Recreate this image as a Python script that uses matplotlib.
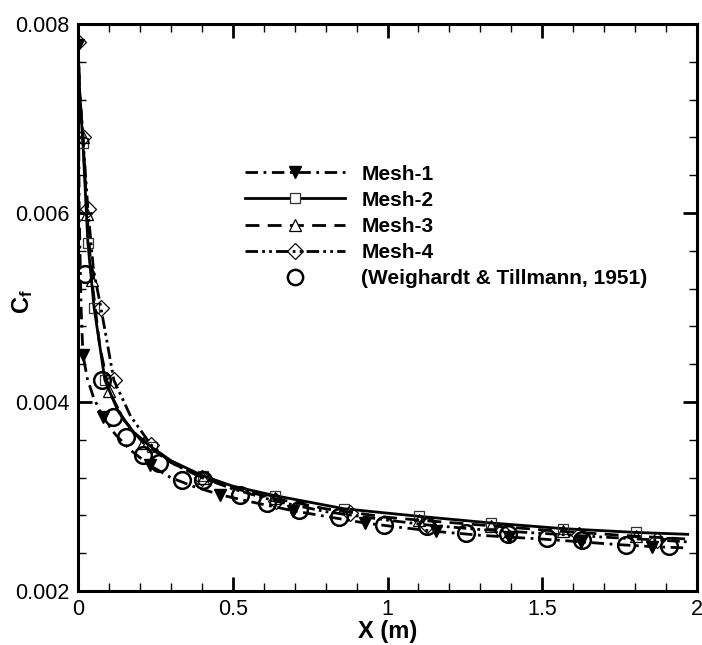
import matplotlib
matplotlib.use("Agg")
import matplotlib.pyplot as plt
from matplotlib.lines import Line2D
from matplotlib.ticker import MultipleLocator, FormatStrFormatter
import numpy as np

plt.rcParams['font.family'] = ['Liberation Sans', 'DejaVu Sans']
plt.rcParams['mathtext.fontset'] = 'custom'
plt.rcParams['mathtext.rm'] = 'Liberation Sans'
plt.rcParams['mathtext.bf'] = 'Liberation Sans:bold'
plt.rcParams['lines.scale_dashes'] = False

# Mesh-1 (dash-dot, filled triangles)
m1_x = [0, 0.004, 0.01, 0.016, 0.03, 0.05, 0.08, 0.12, 0.17, 0.232, 0.3, 0.37, 0.458, 0.55,
        0.694, 0.8, 0.926, 1.05, 1.158, 1.3, 1.394, 1.5, 1.626, 1.75, 1.855, 1.97]
m1_cf = [0.0078, 0.0060, 0.0050, 0.0045, 0.00425, 0.00405, 0.00384, 0.00366, 0.00349, 0.00333,
         0.00320, 0.00311, 0.00302, 0.00295, 0.00285, 0.00279, 0.00272, 0.00267, 0.00263,
         0.00259, 0.00257, 0.00255, 0.00252, 0.00249, 0.00247, 0.002455]
m1_mx = [0, 0.016, 0.08, 0.232, 0.458, 0.694, 0.926, 1.158, 1.394, 1.626, 1.855]
m1_mcf = [0.00778, 0.0045, 0.00384, 0.00333, 0.00302, 0.00285, 0.00272, 0.00263, 0.00257, 0.00252, 0.00247]

# Mesh-2 (solid, squares)
m2_x = [0, 0.005, 0.016, 0.032, 0.052, 0.087, 0.13, 0.18, 0.239, 0.3, 0.403, 0.5, 0.635,
        0.861, 1.103, 1.335, 1.568, 1.803, 1.97]
m2_cf = [0.0078, 0.0073, 0.00674, 0.00568, 0.0050, 0.00423, 0.00390, 0.00368, 0.00352, 0.00338,
         0.00322, 0.00311, 0.00301, 0.00287, 0.00279, 0.00272, 0.00266, 0.00262, 0.00260]
m2_mx = [0.016, 0.032, 0.052, 0.087, 0.239, 0.403, 0.635, 0.861, 1.103, 1.335, 1.568, 1.803]
m2_mcf = [0.00674, 0.00568, 0.0050, 0.00423, 0.00352, 0.00322, 0.00301, 0.00287, 0.00279,
          0.00272, 0.00266, 0.00262]

# Mesh-3 (dashed, open triangles)
m3_x = [0, 0.005, 0.016, 0.029, 0.045, 0.07, 0.1, 0.15, 0.21, 0.3, 0.403, 0.5, 0.635, 0.8,
        1.0, 1.103, 1.335, 1.568, 1.803, 1.97]
m3_cf = [0.0078, 0.0073, 0.0068, 0.00599, 0.00529, 0.0046, 0.00412, 0.00380, 0.00357, 0.00336,
         0.00320, 0.00309, 0.00298, 0.00287, 0.00278, 0.00275, 0.00269, 0.00263, 0.00258, 0.00255]
m3_mx = [0.016, 0.029, 0.045, 0.1, 0.21, 0.403, 0.635, 1.103, 1.335, 1.568, 1.803]
m3_mcf = [0.0068, 0.00599, 0.00529, 0.00412, 0.00357, 0.00320, 0.00298, 0.00275, 0.00269,
          0.00263, 0.00258]

# Mesh-4 (dash-dot-dot, diamonds)
m4_x = [0, 0.005, 0.016, 0.032, 0.05, 0.074, 0.116, 0.17, 0.235, 0.3, 0.4, 0.5, 0.64, 0.8,
        1.0, 1.126, 1.3, 1.5, 1.7, 1.87, 1.97]
m4_cf = [0.0078, 0.0073, 0.0068, 0.00604, 0.0054, 0.0050, 0.00423, 0.00385, 0.00355, 0.00336,
         0.00320, 0.00308, 0.00295, 0.00284, 0.00275, 0.00270, 0.00265, 0.00261, 0.00257,
         0.00254, 0.00252]
m4_mx = [0, 0.016, 0.032, 0.074, 0.116, 0.235, 0.4, 0.64, 0.88, 1.126, 1.37, 1.62, 1.87]
m4_mcf = [0.00781, 0.0068, 0.00604, 0.0050, 0.00423, 0.00355, 0.00320, 0.00295, 0.00283,
          0.00270, 0.00264, 0.00259, 0.00254]

# Experiment (Weighardt & Tillmann, 1951)
exp_x = [0.023, 0.077, 0.113, 0.155, 0.210, 0.261, 0.335, 0.403, 0.523, 0.610, 0.713, 0.842,
         0.990, 1.129, 1.255, 1.390, 1.516, 1.629, 1.771, 1.910]
exp_cf = [0.00535, 0.00423, 0.00384, 0.00363, 0.00344, 0.00335, 0.00318, 0.00318, 0.00302,
          0.00293, 0.00286, 0.00278, 0.00270, 0.00269, 0.00261, 0.00260, 0.00256, 0.00254,
          0.00249, 0.00248]

fig = plt.figure(figsize=(7.02, 6.45), dpi=100)
ax = fig.add_axes([0.1111, 0.0837, 0.8818, 0.879])

ls1 = (0, (9, 4, 2, 4))
ls3 = (0, (10, 6))
ls4 = (0, (9, 3, 2, 3, 2, 3))
lw = 2.0

ax.plot(m1_x, m1_cf, color='k', lw=lw, linestyle=ls1)
ax.plot(m1_mx, m1_mcf, 'v', color='k', ms=9, mec='k', mfc='k')
ax.plot(m2_x, m2_cf, color='k', lw=lw, linestyle='-')
ax.plot(m2_mx, m2_mcf, 's', ms=7, mec='#333333', mfc='none', mew=0.9)
ax.plot(m3_x, m3_cf, color='k', lw=lw, linestyle=ls3)
ax.plot(m3_mx, m3_mcf, '^', ms=9, mec='k', mfc='none', mew=0.9)
ax.plot(m4_x, m4_cf, color='k', lw=lw, linestyle=ls4)
ax.plot(m4_mx, m4_mcf, 'D', ms=8, mec='k', mfc='none', mew=0.9)
ax.plot(exp_x, exp_cf, 'o', ms=12, mec='k', mfc='none', mew=1.8)

handles = [
    Line2D([], [], color='k', lw=lw, linestyle=ls1, marker='v', ms=9, mfc='k'),
    Line2D([], [], color='k', lw=lw, linestyle='-', marker='s', ms=7, mfc='white', mec='#333333', mew=0.9),
    Line2D([], [], color='k', lw=lw, linestyle=ls3, marker='^', ms=9, mfc='white', mew=0.9),
    Line2D([], [], color='k', lw=lw, linestyle=ls4, marker='D', ms=8, mfc='none', mew=0.9),
    Line2D([], [], color='k', lw=0, marker='o', ms=11, mfc='none', mew=1.8),
]
labels = ['Mesh-1', 'Mesh-2', 'Mesh-3', 'Mesh-4', '(Weighardt & Tillmann, 1951)']
ax.legend(handles, labels, loc='upper left', bbox_to_anchor=(0.269, 0.752), frameon=False,
          prop={'weight': 'bold', 'size': 15}, handlelength=4.8, handletextpad=0.8,
          labelspacing=0.34, borderpad=0, borderaxespad=0, numpoints=1)

ax.set_xlim(0, 2)
ax.set_ylim(0.002, 0.008)
ax.xaxis.set_major_locator(MultipleLocator(0.5))
ax.xaxis.set_minor_locator(MultipleLocator(0.1))
ax.yaxis.set_major_locator(MultipleLocator(0.002))
ax.yaxis.set_minor_locator(MultipleLocator(0.0004))
ax.xaxis.set_major_formatter(FormatStrFormatter('%g'))
ax.yaxis.set_major_formatter(FormatStrFormatter('%.3f'))
ax.tick_params(which='both', direction='in', top=True, right=True, labelsize=15.5)
ax.tick_params(which='major', length=10, width=2, pad=6)
ax.tick_params(which='minor', length=6, width=1)
for s in ax.spines.values():
    s.set_linewidth(2.2)

ax.set_xlabel('X (m)', fontsize=17, fontweight='bold', labelpad=0)
ax.set_ylabel(r'$\mathbf{C_f}$', fontsize=17)
ax.yaxis.set_label_coords(-0.07, 0.51)

fig.savefig('out.png', dpi=100)
